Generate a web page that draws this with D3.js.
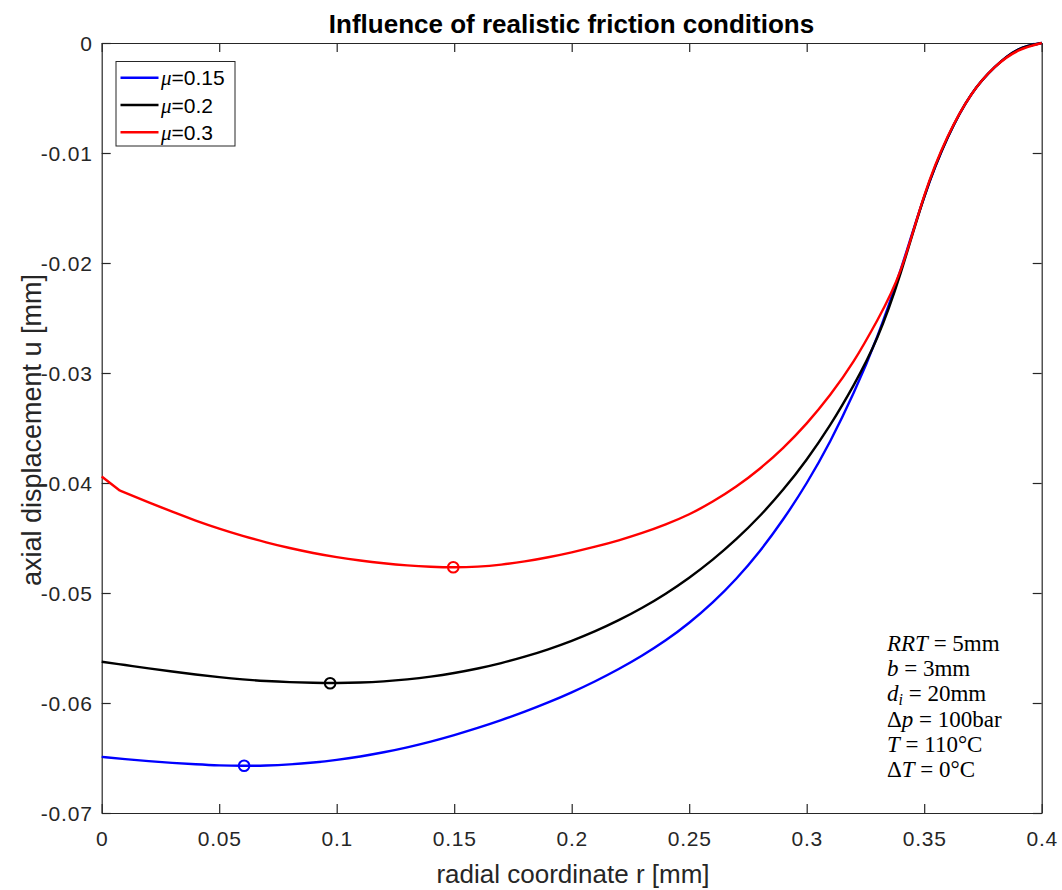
<!DOCTYPE html>
<html>
<head>
<meta charset="utf-8">
<script src="https://cdn.jsdelivr.net/npm/d3@7"></script>
<style>
  html, body { margin: 0; padding: 0; background: #fff; }
  svg { display: block; font-family: "Liberation Sans", Arial, sans-serif; }
</style>
</head>
<body>
<svg id="chart" width="1062" height="890"></svg>
<script>
// Axial displacement u [mm] over radial coordinate r [mm] for three friction coefficients
const seriesNames = ["μ=0.15", "μ=0.2", "μ=0.3"];
const muValues = ["0.15", "0.2", "0.3"];
const seriesColors = ["#0000ff", "#000000", "#ff0000"];

// radial sample positions 0, 0.01, ..., 0.4 mm
const rGrid = [0, 0.01, 0.02, 0.03, 0.04, 0.05, 0.06, 0.07, 0.08, 0.09,
  0.10, 0.11, 0.12, 0.13, 0.14, 0.15, 0.16, 0.17, 0.18, 0.19,
  0.20, 0.21, 0.22, 0.23, 0.24, 0.25, 0.26, 0.27, 0.28, 0.29,
  0.30, 0.31, 0.32, 0.33, 0.34, 0.35, 0.36, 0.37, 0.38, 0.39, 0.40];

const uMu015 = [-0.0649, -0.0651, -0.06528, -0.06544, -0.06557, -0.06567, -0.06571, -0.06568, -0.06558, -0.06541,
  -0.06517, -0.06486, -0.06448, -0.06403, -0.06351, -0.06292, -0.06227, -0.06156, -0.06079, -0.05995,
  -0.05903, -0.05802, -0.05691, -0.05568, -0.0543, -0.0527, -0.05085, -0.0487, -0.0462, -0.0433,
  -0.0400, -0.0362, -0.0318, -0.0267, -0.0206, -0.0140, -0.0086, -0.0047, -0.0022, -0.0006, 0];

const uMu02 = [-0.05625, -0.05655, -0.05685, -0.05714, -0.05741, -0.05765, -0.05785, -0.058, -0.0581, -0.05816,
  -0.05818, -0.05814, -0.05803, -0.05785, -0.0576, -0.05727, -0.05686, -0.05637, -0.05579, -0.05512,
  -0.05435, -0.05347, -0.05247, -0.05134, -0.05006, -0.04861, -0.04697, -0.04511, -0.043, -0.0406,
  -0.03786, -0.03472, -0.0311, -0.0268, -0.0209, -0.0140, -0.0086, -0.0047, -0.0022, -0.0006, 0];

// the μ=0.3 curve has a short straight start up to r = 0.0078 mm
const rMu03 = [0, 0.0078, 0.02, 0.03, 0.04, 0.05, 0.06, 0.07, 0.08, 0.09,
  0.10, 0.11, 0.12, 0.13, 0.14, 0.15, 0.16, 0.17, 0.18, 0.19,
  0.20, 0.21, 0.22, 0.23, 0.24, 0.25, 0.26, 0.27, 0.28, 0.29,
  0.30, 0.31, 0.32, 0.33, 0.34, 0.35, 0.36, 0.37, 0.38, 0.39, 0.40];
const uMu03 = [-0.03941, -0.0407, -0.04176, -0.04261, -0.04341, -0.04414, -0.0448, -0.04539, -0.04591, -0.04636,
  -0.04674, -0.04705, -0.0473, -0.04749, -0.04761, -0.04766, -0.0476, -0.04742, -0.04713, -0.04675,
  -0.0463, -0.04579, -0.04521, -0.04454, -0.04376, -0.04284, -0.04169, -0.04032, -0.0387, -0.0368,
  -0.03458, -0.03198, -0.02893, -0.02523, -0.02063, -0.0139, -0.0085, -0.0047, -0.0022, -0.0007, 0];

// minimum of each curve, marked with an open circle
const minR = [0.0606, 0.0972, 0.1496];
const minU = [-0.06571, -0.0582, -0.04766];

const xTicks = [0, 0.05, 0.1, 0.15, 0.2, 0.25, 0.3, 0.35, 0.4];
const xTickLabels = ["0", "0.05", "0.1", "0.15", "0.2", "0.25", "0.3", "0.35", "0.4"];
const yTicks = [0, -0.01, -0.02, -0.03, -0.04, -0.05, -0.06, -0.07];
const yTickLabels = ["0", "-0.01", "-0.02", "-0.03", "-0.04", "-0.05", "-0.06", "-0.07"];

const svg = d3.select("#chart");
const W = 1062, H = 890;
const margin = { left: 101.7, right: W - 1041.7, top: 43, bottom: H - 813 };
const x = d3.scaleLinear().domain([0, 0.4]).range([margin.left, W - margin.right]);
const y = d3.scaleLinear().domain([-0.07, 0]).range([H - margin.bottom, margin.top]);

const axisColor = "#262626";
const tickLen = 9;
const sans = "'Liberation Sans', Arial, sans-serif";
const serif = "'Liberation Serif', 'DejaVu Serif', serif";

// axes with inward ticks on all four sides
const gx = svg.append("g").attr("transform", `translate(0,${y(-0.07)})`)
  .call(d3.axisBottom(x).tickValues(xTicks).tickSizeInner(-tickLen).tickSizeOuter(0)
    .tickFormat((d, i) => xTickLabels[i]).tickPadding(18));
const gxTop = svg.append("g").attr("transform", `translate(0,${y(0)})`)
  .call(d3.axisTop(x).tickValues(xTicks).tickSizeInner(-tickLen).tickSizeOuter(0).tickFormat(""));
const gy = svg.append("g").attr("transform", `translate(${x(0)},0)`)
  .call(d3.axisLeft(y).tickValues(yTicks).tickSizeInner(-tickLen).tickSizeOuter(0)
    .tickFormat((d, i) => yTickLabels[i]).tickPadding(9));
const gyRight = svg.append("g").attr("transform", `translate(${x(0.4)},0)`)
  .call(d3.axisRight(y).tickValues(yTicks).tickSizeInner(-tickLen).tickSizeOuter(0).tickFormat(""));

[gx, gxTop, gy, gyRight].forEach(g => {
  g.attr("font-family", null).attr("font-size", null);
  g.selectAll("path.domain").attr("stroke", axisColor).attr("stroke-width", 1.2);
  g.selectAll(".tick line").attr("stroke", axisColor).attr("stroke-width", 1.2);
  g.selectAll(".tick text").attr("fill", axisColor)
    .attr("font-family", sans).attr("font-size", 21).attr("letter-spacing", 0.8);
});
gx.selectAll(".tick text").attr("dy", "0.71em");
gy.selectAll(".tick text").attr("dy", "0.35em");

// curves: cubic spline through the samples; an optional straight lead-in
const curves = [
  { r: rGrid, u: uMu015, straight: 0 },
  { r: rGrid, u: uMu02, straight: 0 },
  { r: rMu03, u: uMu03, straight: 1 }
];
const smooth = d3.line().x(d => x(d[0])).y(d => y(d[1])).curve(d3.curveNatural);
const straight = d3.line().x(d => x(d[0])).y(d => y(d[1]));
const plot = svg.append("g");
curves.forEach((c, i) => {
  const pts = c.r.map((rv, k) => [rv, c.u[k]]);
  let d = "";
  if (c.straight > 0) d += straight(pts.slice(0, c.straight + 1));
  d += smooth(pts.slice(c.straight));
  plot.append("path")
    .attr("d", d)
    .attr("fill", "none")
    .attr("stroke", seriesColors[i])
    .attr("stroke-width", 2.4)
    .attr("stroke-linejoin", "round");
});
minR.forEach((rv, i) => {
  plot.append("circle")
    .attr("cx", x(rv)).attr("cy", y(minU[i])).attr("r", 5.3)
    .attr("fill", "none").attr("stroke", seriesColors[i]).attr("stroke-width", 2);
});

// title and axis labels
svg.append("text").attr("x", 571.5).attr("y", 33).attr("text-anchor", "middle")
  .attr("font-family", sans).attr("font-size", 26).attr("font-weight", "bold").attr("fill", "#000")
  .text("Influence of realistic friction conditions");
svg.append("text").attr("x", 573).attr("y", 883).attr("text-anchor", "middle")
  .attr("font-family", sans).attr("font-size", 26).attr("fill", axisColor)
  .text("radial coordinate r [mm]");
svg.append("text").attr("transform", `translate(41,${y(-0.035) + 2}) rotate(-90)`)
  .attr("text-anchor", "middle")
  .attr("font-family", sans).attr("font-size", 27).attr("fill", axisColor)
  .text("axial displacement u [mm]");

// legend
const legend = svg.append("g");
legend.append("rect").attr("x", 116).attr("y", 61.5).attr("width", 119).attr("height", 84.5)
  .attr("fill", "#fff").attr("stroke", axisColor).attr("stroke-width", 1);
seriesNames.forEach((name, i) => {
  const ly = 77.7 + i * 27.3;
  legend.append("line").attr("x1", 120.5).attr("x2", 158.5).attr("y1", ly).attr("y2", ly)
    .attr("stroke", seriesColors[i]).attr("stroke-width", 2.4);
  const t = legend.append("text").attr("x", 161).attr("y", ly).attr("dy", "0.36em")
    .attr("font-family", sans).attr("font-size", 21).attr("fill", "#000");
  t.append("tspan").attr("font-family", serif).attr("font-style", "italic").text("μ");
  t.append("tspan").text("=" + muValues[i]);
});

// parameter annotation
const annLines = [
  [["RRT", true], [" = 5mm", false]],
  [["b", true], [" = 3mm", false]],
  [["d", true], ["i", true, true], [" = 20mm", false]],
  [["Δ", false], ["p", true], [" = 100bar", false]],
  [["T", true], [" = 110°C", false]],
  [["Δ", false], ["T", true], [" = 0°C", false]]
];
annLines.forEach((parts, i) => {
  const t = svg.append("text").attr("x", 887).attr("y", 651 + i * 25.2)
    .attr("font-family", serif).attr("font-size", 23).attr("fill", "#000")
    .attr("xml:space", "preserve").style("white-space", "pre");
  parts.forEach(p => {
    const s = t.append("tspan").text(p[0]).attr("font-style", p[1] ? "italic" : "normal");
    if (p[2]) s.attr("baseline-shift", "-25%").attr("font-size", 16);
  });
});
</script>
</body>
</html>
